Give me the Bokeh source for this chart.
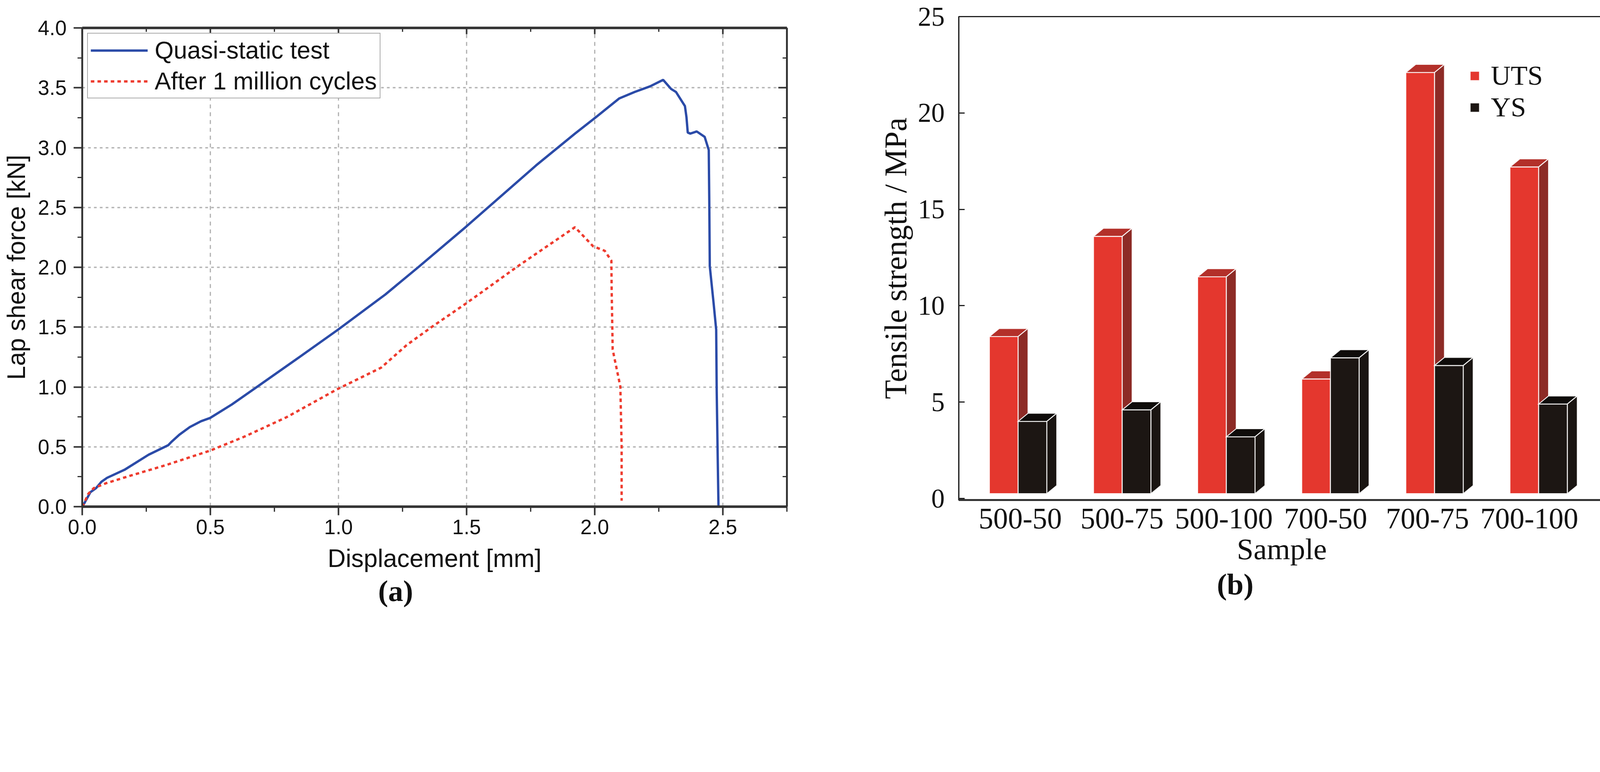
from bokeh.plotting import figure
from bokeh.models import (Range1d, SingleIntervalTicker, FixedTicker, PrintfTickFormatter,
                          LinearAxis, Legend, LegendItem, Title, CustomJSTickFormatter)
from bokeh.layouts import row, column
from bokeh.embed import file_html
from bokeh.resources import INLINE

# ---------------- Panel (a) data ----------------
disp_quasi = [0.0, 0.003, 0.015, 0.032, 0.054, 0.075, 0.097, 0.165, 0.259, 0.336, 0.350,
              0.379, 0.420, 0.464, 0.499, 0.584, 0.687, 0.841, 0.999, 1.183, 1.311, 1.498,
              1.771, 1.923, 1.994, 2.095, 2.156, 2.216, 2.267, 2.298, 2.317, 2.352, 2.358,
              2.363, 2.373, 2.398, 2.429, 2.445, 2.447, 2.449, 2.464, 2.474, 2.476, 2.480, 2.483]
force_quasi = [0.0, 0.008, 0.055, 0.121, 0.155, 0.208, 0.241, 0.308, 0.434, 0.514, 0.545,
               0.601, 0.665, 0.714, 0.741, 0.854, 1.008, 1.240, 1.480, 1.773, 2.000, 2.339,
               2.851, 3.117, 3.236, 3.410, 3.465, 3.512, 3.566, 3.490, 3.465, 3.347, 3.255,
               3.126, 3.117, 3.135, 3.090, 2.980, 2.559, 2.009, 1.698, 1.478, 0.968, 0.400, 0.0]
disp_fatigue = [0.0, 0.007, 0.024, 0.045, 0.092, 0.182, 0.328, 0.413, 0.499, 0.635, 0.798,
                0.995, 1.166, 1.266, 1.367, 1.498, 1.700, 1.923, 1.994, 2.039, 2.065, 2.066,
                2.070, 2.100, 2.105, 2.105]
force_fatigue = [0.0, 0.029, 0.108, 0.155, 0.195, 0.255, 0.348, 0.408, 0.468, 0.587, 0.748,
                 0.981, 1.161, 1.350, 1.506, 1.698, 2.009, 2.335, 2.175, 2.138, 2.055, 1.826,
                 1.313, 1.003, 0.500, 0.050]
series_a = ["Quasi-static test", "After 1 million cycles"]

# ---------------- Panel (b) data ----------------
samples = ["500-50", "500-75", "500-100", "700-50", "700-75", "700-100"]
uts = [8.4, 13.6, 11.5, 6.2, 22.1, 17.2]
ys = [4.0, 4.6, 3.2, 7.3, 6.9, 4.9]
series_b = ["UTS", "YS"]

# the page is photographed at 1.25 device px per CSS px: design in device px, scale by S
S = 0.8


def c(v):
    return int(round(v * S))


def f(v):
    return v * S


def fs(v):
    return "%.1fpx" % (v * S)


SANS = "Liberation Sans"
SERIF = "Liberation Serif"
BLUE = "#2b4ba8"
RED = "#ee3b2e"
GRID = "#b4b4b4"
AX = "#333333"

H = 1578
WA = c(2650)      # 2120
WB = 1990

# ================= Figure (a) =================
pa = figure(width=WA, height=H, output_backend="svg", toolbar_location=None, title=None,
            x_range=Range1d(0, 2.75), y_range=Range1d(0, 4.0),
            min_border_left=c(262), min_border_right=WA - c(2517), min_border_top=c(89),
            min_border_bottom=H - c(1621),
            x_axis_label="Displacement [mm]", y_axis_label="Lap shear force [kN]")
pa.outline_line_color = None
pa.background_fill_color = "white"
pa.border_fill_color = "white"

xt = SingleIntervalTicker(interval=0.5, num_minor_ticks=2)
yt = SingleIntervalTicker(interval=0.5, num_minor_ticks=2)
fmt = PrintfTickFormatter(format="%.1f")

for ax, tk in ((pa.xaxis[0], xt), (pa.yaxis[0], yt)):
    ax.ticker = tk
    ax.formatter = fmt
    ax.axis_line_color = AX
    ax.major_tick_line_color = AX
    ax.minor_tick_line_color = AX
    ax.major_tick_line_width = f(5)
    ax.minor_tick_line_width = f(4)
    ax.major_tick_in = 0
    ax.minor_tick_in = 0
    ax.major_label_text_font = SANS
    ax.major_label_text_font_size = fs(66)
    ax.major_label_text_color = "#111111"
    ax.axis_label_text_font = SANS
    ax.axis_label_text_font_size = fs(80)
    ax.axis_label_text_font_style = "normal"
    ax.axis_label_text_color = "#111111"

pa.xaxis[0].axis_line_width = f(8)
pa.xaxis[0].major_tick_out = c(28)
pa.xaxis[0].minor_tick_out = c(16)
pa.xaxis[0].major_label_standoff = c(14)
pa.xaxis[0].axis_label_standoff = 23
pa.yaxis[0].axis_line_width = f(6)
pa.yaxis[0].major_tick_out = c(28)
pa.yaxis[0].minor_tick_out = c(15)
pa.yaxis[0].major_label_standoff = c(22)
pa.yaxis[0].axis_label_standoff = c(20)

blank = CustomJSTickFormatter(code="return ''")
top_ax = LinearAxis(ticker=SingleIntervalTicker(interval=0.5, num_minor_ticks=2), formatter=blank,
                    axis_line_color=AX, axis_line_width=f(8), major_tick_in=c(20), major_tick_out=0,
                    minor_tick_in=c(12), minor_tick_out=0, major_tick_line_color=AX,
                    minor_tick_line_color=AX, major_tick_line_width=f(5), minor_tick_line_width=f(4),
                    major_label_standoff=0)
right_ax = LinearAxis(ticker=SingleIntervalTicker(interval=0.5, num_minor_ticks=2), formatter=blank,
                      axis_line_color=AX, axis_line_width=f(6), major_tick_in=c(28), major_tick_out=0,
                      minor_tick_in=c(14), minor_tick_out=0, major_tick_line_color=AX,
                      minor_tick_line_color=AX, major_tick_line_width=f(5), minor_tick_line_width=f(4),
                      major_label_standoff=0)
pa.add_layout(top_ax, "above")
pa.add_layout(right_ax, "right")

pa.xgrid.ticker = xt
pa.ygrid.ticker = yt
pa.xgrid.grid_line_color = GRID
pa.xgrid.grid_line_width = f(4)
pa.xgrid.grid_line_dash = "10 10"
pa.ygrid.grid_line_color = GRID
pa.ygrid.grid_line_width = f(4.5)
pa.ygrid.grid_line_dash = "7 8"

r_q = pa.line(disp_quasi, force_quasi, line_color=BLUE, line_width=f(7.5))
r_f = pa.line(disp_fatigue, force_fatigue, line_color=RED, line_width=f(7.5), line_dash="9 8")

leg_a = Legend(items=[LegendItem(label=series_a[0], renderers=[r_q]),
                      LegendItem(label=series_a[1], renderers=[r_f])],
               location="top_left", margin=c(16), padding=c(9), spacing=c(10),
               glyph_width=c(183), glyph_height=c(40), label_standoff=c(22),
               label_text_font=SANS, label_text_font_size=fs(78), label_text_color="#111111",
               border_line_color="#555555", border_line_width=f(3),
               background_fill_color="white", background_fill_alpha=1.0)
pa.add_layout(leg_a)

pa.add_layout(Title(text="(a)", align="left", offset=f(947), standoff=0, text_font=SERIF,
                    text_font_size=fs(96), text_font_style="bold", text_color="#111111"), "below")

# ================= Figure (b) =================
fb_left = c(3067) - WA
pb = figure(width=WB, height=H, output_backend="svg", toolbar_location=None, title=None,
            x_range=Range1d(-0.57, 5.636), y_range=Range1d(-0.08, 25),
            min_border_left=fb_left, min_border_right=2, min_border_top=c(52),
            min_border_bottom=H - c(1600),
            x_axis_label="Sample", y_axis_label="Tensile strength / MPa")
pb.grid.visible = False
pb.outline_line_color = "#222222"
pb.outline_line_width = f(4)
pb.background_fill_color = "white"
pb.border_fill_color = "white"

# sample labels sit slightly tighter than the bar groups in the original figure
LABEL_STEP, LABEL_SHIFT = 0.978, 0.02
tick_pos = [round(i * LABEL_STEP + LABEL_SHIFT, 3) for i in range(len(samples))]

xb = pb.xaxis[0]
xb.ticker = FixedTicker(ticks=tick_pos)
xb.major_label_overrides = {t: s for t, s in zip(tick_pos, samples)}
xb.major_tick_in = 0
xb.major_tick_out = 0
xb.minor_tick_line_color = None
xb.axis_line_color = "#333333"
xb.axis_line_width = f(6)
xb.major_label_standoff = 22
xb.axis_label_standoff = 8
xb.major_label_text_font_size = fs(94)

yb = pb.yaxis[0]
yb.ticker = SingleIntervalTicker(interval=5, num_minor_ticks=0)
yb.major_tick_in = c(19)
yb.major_tick_out = 0
yb.major_tick_line_width = f(4)
yb.major_tick_line_color = "#222222"
yb.minor_tick_line_color = None
yb.axis_line_color = "#222222"
yb.axis_line_width = f(4)
yb.major_label_standoff = c(45)
yb.axis_label_standoff = c(12)
yb.major_label_text_font_size = fs(86)

for ax in (xb, yb):
    ax.major_label_text_font = SERIF
    ax.major_label_text_color = "#111111"
    ax.axis_label_text_font = SERIF
    ax.axis_label_text_font_style = "normal"
    ax.axis_label_text_color = "#111111"
xb.axis_label_text_font_size = fs(96)
yb.axis_label_text_font_size = fs(100)

W, DX, DY, BASE = 0.276, 0.095, 0.42, 0.25


def faces(values, shift):
    fx, fy, tx, ty, sx, sy = [], [], [], [], [], []
    for i, v in enumerate(values):
        x0 = i + shift
        x1 = x0 + W
        fx.append([x0, x1, x1, x0]); fy.append([BASE, BASE, v, v])
        tx.append([x0, x1, x1 + DX, x0 + DX]); ty.append([v, v, v + DY, v + DY])
        sx.append([x1, x1 + DX, x1 + DX, x1]); sy.append([BASE, BASE + DY, v + DY, v])
    return fx, fy, tx, ty, sx, sy


edge = dict(line_color="white", line_width=f(3), line_alpha=0.9, line_join="miter")
legend_rs = []
for vals, shift, cols in ((uts, -W, ("#e4372e", "#b3302a", "#8d2b26")),
                          (ys, 0.0, ("#1c1613", "#0f0c0a", "#1a1512"))):
    fx, fy, tx, ty, sx, sy = faces(vals, shift)
    rf = pb.patches(fx, fy, fill_color=cols[0], **edge)
    pb.patches(tx, ty, fill_color=cols[1], **edge)
    pb.patches(sx, sy, fill_color=cols[2], **edge)
    legend_rs.append(rf)

leg_b = Legend(items=[LegendItem(label=series_b[0], renderers=[legend_rs[0]]),
                      LegendItem(label=series_b[1], renderers=[legend_rs[1]])],
               location=(f(1632), f(1206)), margin=0, padding=0, spacing=0,
               glyph_width=c(37), glyph_height=c(37), label_standoff=c(34),
               label_text_font=SERIF, label_text_font_size=fs(88), label_text_color="#111111",
               border_line_color=None, background_fill_alpha=0.0)
pb.add_layout(leg_b)

pb.add_layout(Title(text="(b)", align="left", offset=f(826), standoff=0, text_font=SERIF,
                    text_font_size=fs(96), text_font_style="bold", text_color="#111111"), "below")

layout = row(column(pa), column(pb))
open("out.html", "w").write(file_html(layout, INLINE))
